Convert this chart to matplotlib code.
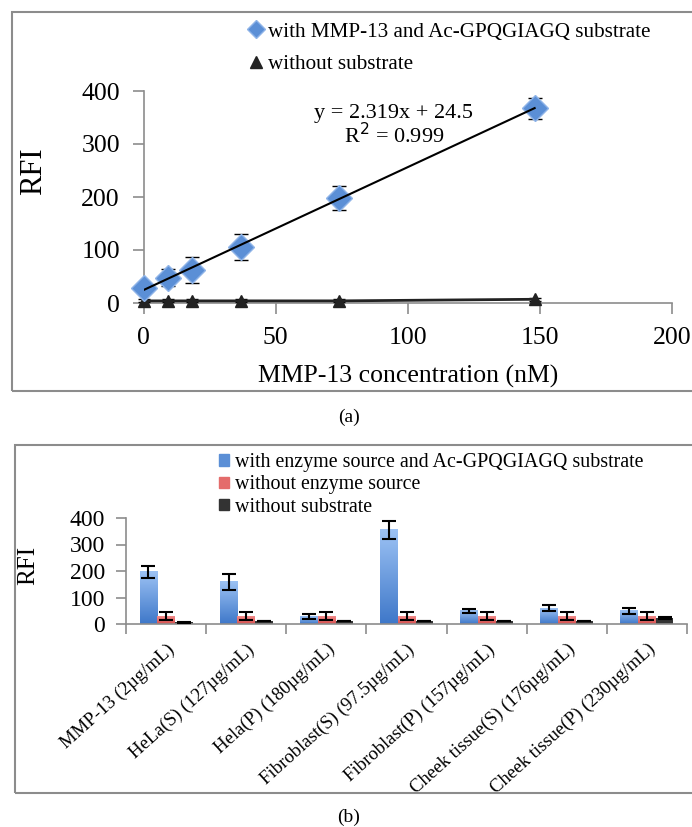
import numpy as np
import matplotlib
matplotlib.use('Agg')
import matplotlib.pyplot as plt
from matplotlib.lines import Line2D
from matplotlib.patches import Rectangle, Patch
from matplotlib.colors import LinearSegmentedColormap

plt.rcParams['font.family'] = ['Liberation Serif', 'DejaVu Serif']

# ---- panel (a) data ----
conc = [0, 9.25, 18.5, 37, 74, 148]
rfi_mmp = [28, 48, 62, 106, 198, 367]
err_mmp = [5, 16, 25, 25, 22, 20]
rfi_nosub = [4, 4, 4, 4, 4, 7]
err_nosub = [3, 3, 3, 3, 3, 3]
slope, intercept, r2 = 2.319, 24.5, 0.999

# ---- panel (b) data ----
sources = ['MMP-13 (2µg/mL)', 'HeLa(S) (127µg/mL)', 'Hela(P) (180µg/mL)',
           'Fibroblast(S) (97.5µg/mL)', 'Fibroblast(P) (157µg/mL)',
           'Cheek tissue(S) (176µg/mL)', 'Cheek tissue(P) (230µg/mL)']
with_enzyme = [197, 160, 27, 355, 50, 60, 50]
with_enzyme_err = [22, 30, 10, 35, 8, 11, 12]
no_enzyme = [30, 30, 30, 30, 30, 30, 30]
no_enzyme_err = [14, 14, 14, 14, 14, 14, 14]
no_substrate = [6, 12, 12, 12, 12, 12, 22]
no_substrate_err = [1, 1, 1, 1, 1, 1, 5]

W, H = 692, 827
fig = plt.figure(figsize=(W / 100, H / 100), dpi=100)

def fx(px):
    return px / W

def fy(py):
    return 1 - py / H

grey = '#8c8c8c'

# frames around panels
fig.patches.append(Rectangle((fx(12), fy(391)), fx(700) - fx(12), fy(12) - fy(391),
                             transform=fig.transFigure, fill=False, ec=grey, lw=1.5))
fig.patches.append(Rectangle((fx(15), fy(793)), fx(700) - fx(15), fy(445) - fy(793),
                             transform=fig.transFigure, fill=False, ec=grey, lw=1.5))

# ================= panel (a) =================
ax = fig.add_axes([fx(143.6), fy(303), fx(672) - fx(143.6), fy(91) - fy(303)])
blue = '#5b8fd6'
ax.errorbar(conc, rfi_mmp, yerr=err_mmp, fmt='D', ms=13, mfc=blue, mec='#8fb4e8',
            mew=1, ecolor='black', elinewidth=1.5, capsize=5, capthick=1.5,
            clip_on=False, zorder=4)
ax.errorbar(conc, rfi_nosub, yerr=err_nosub, fmt='^-', ms=9, color='#222222',
            ecolor='black', elinewidth=1.2, capsize=4, lw=2, clip_on=False, zorder=3)
xfit = np.array([conc[0], conc[-1]])
ax.plot(xfit, slope * xfit + intercept, color='black', lw=1.5, zorder=5)
ax.text(94.5, 358, 'y = %.3fx + %.1f' % (slope, intercept),
        ha='center', va='center', fontsize=16)
ax.text(95, 316, 'R$^2$ = %.3f' % r2, ha='center', va='center', fontsize=16)

ax.set_xlim(0, 200)
ax.set_ylim(0, 400)
ax.set_xticks([0, 50, 100, 150, 200])
ax.set_yticks([0, 100, 200, 300, 400])
for s in ['top', 'right']:
    ax.spines[s].set_visible(False)
for s in ['left', 'bottom']:
    ax.spines[s].set_color(grey)
    ax.spines[s].set_linewidth(1.2)
ax.tick_params(direction='out', length=8, width=1.2, color=grey, labelsize=18.5, pad=9)
ax.set_xlabel('MMP-13 concentration (nM)', fontsize=18.5, labelpad=12)
ax.set_ylabel('RFI', fontsize=22, labelpad=24)
ax.yaxis.label.set_position((0, 0.62))

handles_a = [Line2D([], [], marker='D', ls='none', ms=9, mfc=blue, mec='#8fb4e8'),
             Line2D([], [], marker='^', ls='none', ms=8, color='#222222')]
fig.legend(handles_a, ['with MMP-13 and Ac-GPQGIAGQ substrate', 'without substrate'],
           loc='upper left', bbox_to_anchor=(fx(235), fy(7)), frameon=False,
           fontsize=15.2, handlelength=0.6, handletextpad=0.25, labelspacing=0.6,
           borderpad=0.2)

fig.text(fx(349), fy(417), '(a)', ha='center', va='center', fontsize=14)

# ================= panel (b) =================
bx = fig.add_axes([fx(126), fy(624), fx(687) - fx(126), fy(518) - fy(624)])
idx = np.arange(len(sources))
bw = 0.22
cmap_blue = LinearSegmentedColormap.from_list('b', ['#3f78c9', '#9cc2f4'])
cmap_red = LinearSegmentedColormap.from_list('r', ['#d9504f', '#f28b8a'])
series = [(with_enzyme, with_enzyme_err, cmap_blue, '#6f9ee0', -bw),
          (no_enzyme, no_enzyme_err, cmap_red, '#e46c6b', 0),
          (no_substrate, no_substrate_err, None, '#333333', bw)]
grad = np.linspace(0, 1, 64).reshape(-1, 1)
for vals, errs, cmap, col, off in series:
    bars = bx.bar(idx + off, vals, bw, color=col, zorder=2)
    if cmap is not None:
        for r in bars:
            bx.imshow(grad, extent=[r.get_x(), r.get_x() + r.get_width(), 0, r.get_height()],
                      origin='lower', cmap=cmap, aspect='auto', zorder=2.5)
    bx.errorbar(idx + off, vals, yerr=errs, fmt='none', ecolor='black',
                elinewidth=1.5, capsize=5, capthick=1.5, zorder=4)

bx.set_xlim(-0.5, len(sources) - 0.5)
bx.set_ylim(0, 400)
bx.set_aspect('auto')
bx.set_yticks([0, 100, 200, 300, 400])
bx.set_xticks(np.arange(len(sources) + 1) - 0.5)
bx.set_xticklabels([])
bx.set_xticks(idx, minor=True)
bx.set_xticklabels(sources, minor=True, rotation=42, ha='right', va='top',
                   rotation_mode='anchor', fontsize=13.5)
bx.tick_params(axis='x', which='minor', length=0, pad=12)
for s in ['top', 'right']:
    bx.spines[s].set_visible(False)
for s in ['left', 'bottom']:
    bx.spines[s].set_color(grey)
    bx.spines[s].set_linewidth(1.2)
bx.tick_params(which='major', direction='out', length=7, width=1.2, color=grey,
               labelsize=17, pad=8)
bx.set_ylabel('RFI', fontsize=18, labelpad=22)
bx.yaxis.label.set_position((0, 0.55))

handles_b = [Patch(color='#5b8fd6'), Patch(color='#e46c6b'), Patch(color='#333333')]
fig.legend(handles_b, ['with enzyme source and Ac-GPQGIAGQ substrate',
                       'without enzyme source', 'without substrate'],
           loc='upper left', bbox_to_anchor=(fx(205), fy(439)), frameon=False,
           fontsize=14.4, handlelength=0.5, handleheight=0.5, handletextpad=0.3,
           labelspacing=0.17, borderpad=0.2)

fig.text(fx(349), fy(817), '(b)', ha='center', va='center', fontsize=14)

fig.savefig('out.png', dpi=100)
